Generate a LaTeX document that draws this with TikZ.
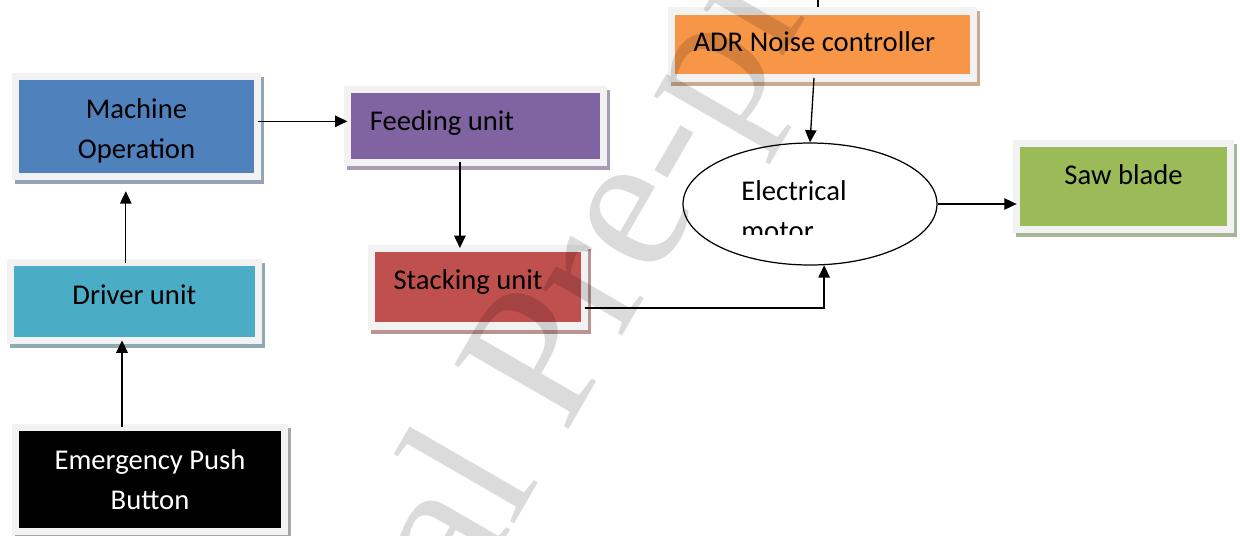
\documentclass[tikz,border=0pt]{standalone}
\usepackage{fontspec}
\setmainfont{Carlito}
\newfontfamily\markfont{Liberation Serif}
\usepackage{tikz}
\usetikzlibrary{arrows.meta, shapes.geometric}

\definecolor{framegray}{HTML}{F2F2F2}
\definecolor{machblue}{HTML}{4F81BD}
\definecolor{machshade}{HTML}{95A3B8}
\definecolor{feedpurple}{HTML}{8064A2}
\definecolor{feedshade}{HTML}{A79CB6}
\definecolor{adrorange}{HTML}{F79646}
\definecolor{adrshade}{HTML}{CDA98D}
\definecolor{sawgreen}{HTML}{9BBB59}
\definecolor{sawshade}{HTML}{AAB497}
\definecolor{stackred}{HTML}{C0504D}
\definecolor{stackshade}{HTML}{B99593}
\definecolor{drvcyan}{HTML}{4BACC6}
\definecolor{drvshade}{HTML}{90AAB2}
\definecolor{emgshade}{HTML}{A6A6A6}

\newcommand{\unitfont}{\fontsize{16.3pt}{22.7pt}\selectfont}

\begin{document}
\begin{tikzpicture}[x=0.02cm, y=-0.02cm,
	unit/.style 2 args={rectangle, draw=framegray, line width=4pt, fill=#1, inner sep=0pt, outer sep=0pt, font=\unitfont,
		preaction={draw=#2, fill=#2, line width=4pt, transform canvas={xshift=0.06cm, yshift=-0.08cm}}},
	lefttext/.style 2 args={inner xsep=0.45cm, text height=11.4pt, text depth=#2,
		execute at begin node={\hbox to #1\bgroup}, execute at end node={\hfil\egroup}},
	midtext/.style={text height=11.4pt, text depth=#1},
	link/.style={-{Triangle[length=7pt, width=6.5pt]}, line width=0.75pt},
	]
	\useasboundingbox (0,0) rectangle (1240,535);
	\clip (0,0) rectangle (1240,535);

	\node[unit={machblue}{machshade}, minimum width=4.86cm, minimum height=2cm, align=center] (mach) at (136.5,126.3) {\rule{0pt}{16.9pt}Machine\\Operation};
	\node[unit={feedpurple}{feedshade}, lefttext={4.22cm}{0.24cm}, minimum height=1.45cm] (feed) at (475.4,126) {Feeding unit};
	\node[unit={stackred}{stackshade}, lefttext={3.37cm}{0.3cm}, minimum height=1.56cm] (stack) at (477.8,287) {Stacking unit};
	\node[unit={adrorange}{adrshade}, lefttext={5.16cm}{0.14cm}, minimum height=1.34cm] (adr) at (822.5,44.5) {ADR Noise controller};
	\node[unit={sawgreen}{sawshade}, midtext=0.49cm, minimum width=4.28cm, minimum height=1.73cm] (saw) at (1123.6,186.7) {Saw blade};
	\node[unit={drvcyan}{drvshade}, midtext=0.3cm, minimum width=4.96cm, minimum height=1.55cm] (drv) at (134.3,301.7) {Driver unit};
	\node[unit={black}{emgshade}, text=white, align=center, minimum width=5.4cm, minimum height=2.09cm] (emg) at (150,479.3) {Emergency Push\\Button};
	\node[ellipse, draw, fill=white, line width=0.7pt, minimum width=5.08cm, minimum height=2.44cm, inner sep=0pt] (motor) at (810,204) {};
	\begin{scope}
		\clip (700,150) rectangle (930,234);
		\node[font=\unitfont, align=left, anchor=base west, inner sep=0pt] (motorlabel) at (741,240) {Electrical\\motor};
	\end{scope}

	\draw[link] ([xshift=-0.56cm]emg.north) -- ([xshift=-0.56cm]emg.north |- drv.south);
	\draw[link, shorten >=8.5pt] ([xshift=-0.17cm]drv.north) -- ([xshift=-0.17cm]drv.north |- mach.south);
	\draw[link] ([yshift=0.1cm]mach.east) -- ([yshift=0.1cm]mach.east -| feed.west);
	\draw[link] ([xshift=-0.31cm]feed.south) -- ([xshift=-0.31cm]feed.south |- stack.north);
	\draw[link] ([yshift=-0.42cm]stack.east) -| (motor.-77);
	\draw[link] ([xshift=-0.17cm]adr.south) -- (motor.north);
	\draw[link] (motor.east) -- (motor.east -| saw.west);
	\coordinate (adrfeed) at (818,0);
	\draw[line width=0.75pt, shorten >=2pt] (adrfeed) -- (adrfeed |- adr.north);

	\node[font=\markfont\fontsize{114pt}{114pt}\selectfont, text=black, opacity=0.14, rotate=60, anchor=base west, inner sep=0pt] (mark) at (245,990) {Journal Pre-proof};
\end{tikzpicture}
\end{document}
